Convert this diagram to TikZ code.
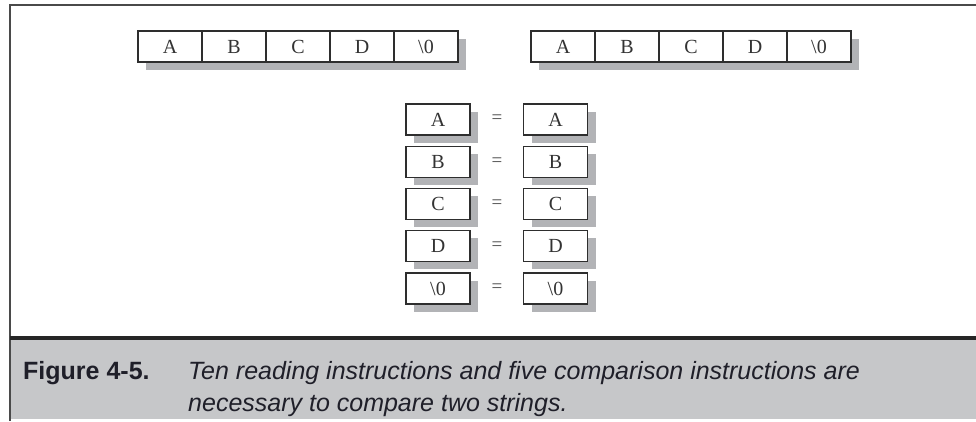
\documentclass[tikz,border=0pt]{standalone}
\usepackage{fontspec}
\setmainfont{Liberation Serif}
\newfontfamily\capfont{Liberation Sans}
\usetikzlibrary{shadows}

\definecolor{framegray}{HTML}{4A4A4A}
\definecolor{rulegray}{HTML}{262626}
\definecolor{capgray}{HTML}{C6C7C9}
\definecolor{boxline}{HTML}{2E2E2E}
\definecolor{shadowgray}{HTML}{B2B3B6}
\definecolor{captext}{HTML}{1F1F29}

\tikzset{
  cell/.style={draw=boxline, line width=1.3pt, fill=white,
    minimum width=64pt, minimum height=31pt, inner sep=0pt,
    font=\fontsize{20}{20}\selectfont, text=black!80,
    drop shadow={shadow xshift=8pt, shadow yshift=-7.5pt,
      fill=shadowgray, opacity=1}},
  eqsign/.style={font=\fontsize{19}{19}\selectfont, text=black!70, inner sep=0pt},
  captionbold/.style={font=\capfont\bfseries\fontsize{25}{30}\selectfont,
    text=captext, inner sep=0pt, anchor=base west},
  captionit/.style={font=\capfont\itshape\fontsize{25}{30}\selectfont,
    text=captext, inner sep=0pt, anchor=base west}
}

\begin{document}
\begin{tikzpicture}[x=1pt,y=-1pt]
  \useasboundingbox (0,0) rectangle (976,421);

  % frame and caption band
  \fill[capgray] (10,339) rectangle (976,419);
  \draw[framegray, line width=2.5pt] (10,421) -- (10,5) -- (976,5);
  \draw[rulegray, line width=4pt] (10,337.5) -- (976,337.5);

  % the two strings
  \foreach \s/\x in {l/138, r/531}{
    \foreach \c [count=\i from 0] in {A,B,C,D,\textbackslash 0}{
      \node[cell] (\s\i) at ({\x+32+64*\i},46.5) {\c};
    }
  }

  % pairwise comparisons
  \foreach \c [count=\i from 0] in {A,B,C,D,\textbackslash 0}{
    \node[cell] (pl\i) at (438,{119.5+42.25*\i}) {\c};
    \node[cell] (pr\i) at (555.5,{119.5+42.25*\i}) {\c};
    \node[eqsign] (eq\i) at (497,{119.5+42.25*\i}) {=};
  }

  % caption
  \node[captionbold] (figlabel) at (23,379) {Figure 4-5.};
  \node[captionit] (capline1) at (188,379)
    {Ten reading instructions and five comparison instructions are};
  \node[captionit] (capline2) at (188,411)
    {necessary to compare two strings.};
\end{tikzpicture}
\end{document}
